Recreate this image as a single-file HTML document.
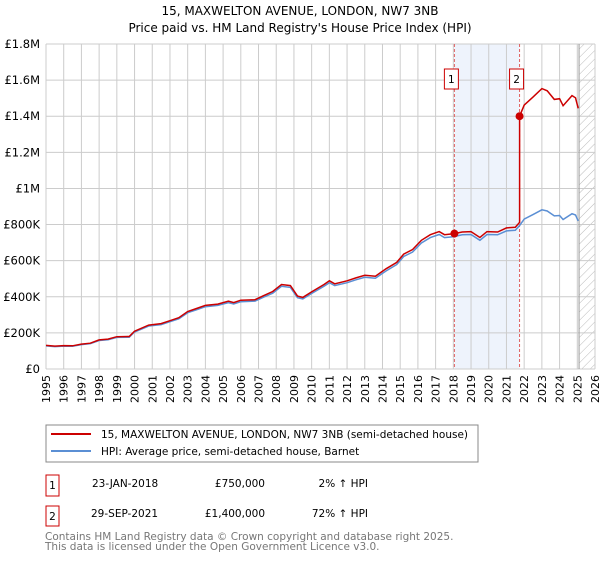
<!DOCTYPE html>
<html><head><meta charset="utf-8"><style>
body{margin:0;background:#fff;font-family:"DejaVu Sans","Liberation Sans",sans-serif;}
svg text{font-family:"DejaVu Sans","Liberation Sans",sans-serif;}
</style></head><body>
<svg id="c" width="600" height="560" viewBox="0 0 600 560" xmlns="http://www.w3.org/2000/svg">
<defs><pattern id="hatch" width="6" height="6" patternUnits="userSpaceOnUse" patternTransform="rotate(45)"><line x1="0" y1="0" x2="0" y2="6" stroke="#bbb" stroke-width="1"/></pattern></defs>
<text x="300" y="15" text-anchor="middle" font-size="12">15, MAXWELTON AVENUE, LONDON, NW7 3NB</text>
<text x="300" y="32" text-anchor="middle" font-size="12">Price paid vs. HM Land Registry's House Price Index (HPI)</text>
<g id="plot"></g>
<g>
<rect x="46" y="425" width="432" height="37" fill="#fff" stroke="#888"/>
<line x1="51" y1="434" x2="91" y2="434" stroke="#cc0000" stroke-width="2"/>
<text x="101" y="438" font-size="10.5">15, MAXWELTON AVENUE, LONDON, NW7 3NB (semi-detached house)</text>
<line x1="51" y1="451" x2="91" y2="451" stroke="#5b8fd4" stroke-width="2"/>
<text x="101" y="455" font-size="10.5">HPI: Average price, semi-detached house, Barnet</text>
</g>
<g font-size="10.5">
<rect x="46" y="475" width="13" height="21" fill="#fff" stroke="#cc0000"/><text x="52.5" y="489" text-anchor="middle">1</text>
<text x="92" y="487">23-JAN-2018</text><text x="265" y="487" text-anchor="end">£750,000</text><text x="368" y="487" text-anchor="end">2% ↑ HPI</text>
<rect x="46" y="506" width="13" height="20" fill="#fff" stroke="#cc0000"/><text x="52.5" y="520" text-anchor="middle">2</text>
<text x="91" y="517">29-SEP-2021</text><text x="265" y="517" text-anchor="end">£1,400,000</text><text x="368" y="517" text-anchor="end">72% ↑ HPI</text>
</g>
<text x="45" y="540" font-size="10.5" fill="#777">Contains HM Land Registry data © Crown copyright and database right 2025.</text>
<text x="45" y="550" font-size="10.5" fill="#777">This data is licensed under the Open Government Licence v3.0.</text>
</svg>
<script>
const hpiYears=[1995.0,1995.5,1996,1996.5,1997,1997.5,1998,1998.5,1999,1999.7,2000,2000.8,2001.5,2002,2002.5,2003,2003.5,2004,2004.7,2005.3,2005.6,2006,2006.8,2007.3,2007.8,2008.3,2008.8,2009.2,2009.5,2010,2010.7,2011,2011.3,2012,2012.5,2013,2013.6,2014.2,2014.8,2015.2,2015.7,2016.2,2016.7,2017.2,2017.5,2018,2018.5,2019,2019.5,2019.9,2020.5,2021,2021.5,2021.74,2022,2022.5,2023,2023.3,2023.7,2024,2024.2,2024.7,2024.9,2025.05];
const hpiValues=[128,124,127,126,135,140,158,162,175,176,205,238,246,262,278,312,328,345,352,368,360,373,376,398,420,458,452,395,388,418,458,478,462,478,494,508,503,543,578,623,648,698,728,745,728,733,743,745,713,745,743,765,768,795,830,855,882,875,848,850,828,860,853,820];
const saleYears=[2018.06,2021.74];
const salePrices=[750,1400];
const saleLabels=['1','2'];
const yTicks=[0,200,400,600,800,1000,1200,1400,1600,1800];
const yTickLabels=['£0','£200K','£400K','£600K','£800K','£1M','£1.2M','£1.4M','£1.6M','£1.8M'];
const xTicks=[1995,1996,1997,1998,1999,2000,2001,2002,2003,2004,2005,2006,2007,2008,2009,2010,2011,2012,2013,2014,2015,2016,2017,2018,2019,2020,2021,2022,2023,2024,2025,2026];
const dataEnd=2025.1;

const L=46,R=595,T=44,B=369,X0=1995,X1=2026,Ymax=1800;
const xs=y=>L+(y-X0)/(X1-X0)*(R-L);
const ys=v=>B-v/Ymax*(B-T);
const NS='http://www.w3.org/2000/svg';
const g=document.getElementById('plot');
function mk(t,a,p){const e=document.createElementNS(NS,t);for(const k in a)e.setAttribute(k,a[k]);(p||g).appendChild(e);return e;}
function interp(y){for(let i=0;i<hpiYears.length-1;i++){if(y<=hpiYears[i+1]){const f=(y-hpiYears[i])/(hpiYears[i+1]-hpiYears[i]);return hpiValues[i]+f*(hpiValues[i+1]-hpiValues[i]);}}return hpiValues[hpiValues.length-1];}

let e=mk('rect',{x:xs(saleYears[0]),y:T,width:xs(saleYears[1])-xs(saleYears[0]),height:B-T,fill:'#eef3fc'});

e=mk('rect',{x:xs(dataEnd),y:T,width:R-xs(dataEnd),height:B-T,fill:'url(#hatch)'});

xTicks.forEach(t=>{const l=mk('line',{x1:xs(t),x2:xs(t),y1:T,y2:B,stroke:'#ccc'});

const tx=mk('text',{x:0,y:0,'font-size':'11','text-anchor':'end',transform:`translate(${xs(t)+4},${B+6}) rotate(-90)`});tx.textContent=t;
});
yTicks.forEach((t,i)=>{const l=mk('line',{x1:L,x2:R,y1:ys(t),y2:ys(t),stroke:'#ccc'});

const tx=mk('text',{x:L-6,y:ys(t)+4,'font-size':'11.5','text-anchor':'end'});tx.textContent=yTickLabels[i];
});
e=mk('line',{x1:xs(dataEnd),x2:xs(dataEnd),y1:T,y2:B,stroke:'#999'});

saleYears.forEach(s=>{const l=mk('line',{x1:xs(s),x2:xs(s),y1:T,y2:B,stroke:'#e06060','stroke-dasharray':'3,2'});
});
let d=hpiYears.map((y,i)=>(i?'L':'M')+xs(y).toFixed(1)+','+ys(hpiValues[i]).toFixed(1)).join('');
e=mk('path',{d:d,fill:'none',stroke:'#5b8fd4','stroke-width':'1.5'});

const r1=salePrices[0]/interp(saleYears[0]),r2=salePrices[1]/interp(saleYears[1]);
let pts=[];
hpiYears.forEach((y,i)=>{if(y<saleYears[1])pts.push([y,hpiValues[i]*r1]);});
pts.push([saleYears[1],interp(saleYears[1])*r1]);pts.push([saleYears[1],salePrices[1]]);
hpiYears.forEach((y,i)=>{if(y>saleYears[1])pts.push([y,hpiValues[i]*r2]);});
d=pts.map((p,i)=>(i?'L':'M')+xs(p[0]).toFixed(1)+','+ys(p[1]).toFixed(1)).join('');
e=mk('path',{d:d,fill:'none',stroke:'#cc0000','stroke-width':'1.5'});

saleYears.forEach((s,i)=>{const c=mk('circle',{cx:xs(s),cy:ys(salePrices[i]),r:4,fill:'#cc0000'});

const bx=xs(s)-3;
const rb=mk('rect',{x:bx-7,y:69,width:14,height:20,fill:'#fff',stroke:'#cc0000'});

const tx=mk('text',{x:bx,y:83,'font-size':'10.5','text-anchor':'middle'});tx.textContent=saleLabels[i];
});
</script>
</body></html>
